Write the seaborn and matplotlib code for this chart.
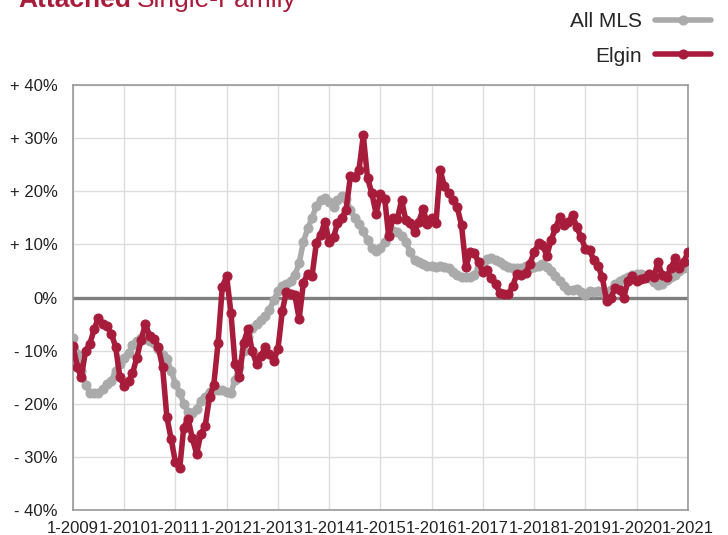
import numpy as np
import pandas as pd
import matplotlib.pyplot as plt
import seaborn as sns

# year-over-year change, monthly, 1-2009 .. 1-2021 (percent)
elgin = [
    -9.2, -13.0, -15.0, -10.0, -8.7, -6.0, -3.8, -5.0, -5.3, -6.8, -9.3, -15.0,
    -16.6, -15.7, -14.3, -11.3, -8.0, -5.0, -7.2, -7.8, -9.4, -13.0, -22.5, -26.6,
    -31.0, -32.0, -24.5, -22.8, -26.5, -29.4, -25.7, -24.2, -18.7, -16.5, -8.5, 2.0,
    4.0, -3.0, -12.5, -15.0, -8.5, -6.0, -10.0, -12.5, -11.0, -9.4, -10.6, -11.9,
    -9.6, -2.5, 1.0, 0.6, 0.4, -4.0, 2.8, 4.5, 4.1, 10.2, 11.8, 14.3,
    10.4, 11.3, 14.0, 15.0, 16.5, 22.8, 22.6, 24.0, 30.5, 22.5, 19.6, 15.8,
    19.5, 18.5, 11.5, 15.0, 14.8, 18.3, 14.5, 14.0, 12.4, 14.2, 16.7, 13.8,
    14.9, 14.0, 24.0, 21.0, 19.6, 18.3, 17.0, 13.6, 5.7, 8.5, 8.3, 6.6,
    4.8, 5.1, 3.6, 2.5, 0.9, 0.6, 0.6, 2.2, 4.5, 4.2, 4.6, 6.4,
    8.5, 10.2, 9.9, 7.9, 10.8, 13.0, 15.1, 13.6, 14.2, 15.5, 13.2, 11.3,
    9.2, 8.9, 7.0, 6.0, 3.8, -0.6, 0.0, 1.7, 1.4, 0.0, 3.2, 4.1,
    3.2, 3.4, 3.6, 4.5, 3.8, 6.6, 4.2, 3.9, 5.5, 7.4, 5.5, 6.6,
    8.6,
]
all_mls = [
    -7.7, -10.6, -13.8, -16.5, -17.9, -17.9, -17.9, -17.2, -16.2, -15.7, -13.8, -12.5,
    -11.3, -10.4, -9.0, -8.1, -7.7, -7.9, -8.1, -8.5, -9.6, -10.8, -11.5, -13.8,
    -16.2, -17.9, -20.0, -21.5, -21.7, -21.0, -19.5, -18.7, -17.8, -17.5, -17.5, -17.5,
    -17.8, -17.9, -15.5, -13.0, -10.0, -7.5, -5.8, -5.0, -4.2, -3.4, -2.4, -0.5,
    1.2, 2.2, 2.6, 3.2, 4.2, 6.5, 10.5, 13.0, 15.0, 17.2, 18.3, 18.8,
    17.9, 17.0, 18.3, 19.2, 18.5, 16.5, 15.0, 13.8, 12.5, 10.8, 9.4, 8.7,
    9.4, 10.5, 11.7, 12.6, 12.3, 11.5, 10.5, 8.5, 7.0, 6.6, 6.3, 6.0,
    6.0, 5.7, 6.0, 5.8, 5.5, 4.8, 4.2, 3.8, 3.8, 3.8, 4.3, 5.5,
    6.5, 7.2, 7.5, 7.0, 6.6, 6.2, 5.8, 5.6, 5.5, 5.6, 5.9, 5.6,
    5.8, 6.0, 6.3, 5.8, 5.0, 4.0, 3.2, 2.2, 1.4, 1.5, 1.6, 1.0,
    0.5, 1.2, 1.0, 1.2, 1.0, 0.9, 1.5, 2.5, 3.1, 3.5, 3.9, 4.2,
    4.4, 4.4, 4.1, 3.7, 2.9, 2.3, 2.5, 3.3, 3.8, 4.2, 4.9, 5.6,
    6.4,
]
x_labels = ["1-2009", "1-2010", "1-2011", "1-2012", "1-2013", "1-2014", "1-2015",
            "1-2016", "1-2017", "1-2018", "1-2019", "1-2020", "1-2021"]
y_ticks = [-40, -30, -20, -10, 0, 10, 20, 30, 40]
y_labels = ["- 40%", "- 30%", "- 20%", "- 10%", "0%", "+ 10%", "+ 20%", "+ 30%", "+ 40%"]

RED = "#a81c3b"
GRAY = "#aaaaaa"

sns.set_style("white")
plt.rcParams['font.family'] = ['Liberation Sans', 'DejaVu Sans']

months = pd.date_range("2009-01-01", periods=len(elgin), freq="MS")
df = pd.DataFrame({"month": months, "All MLS": all_mls, "Elgin": elgin})
year_ticks = pd.date_range("2009-01-01", periods=len(x_labels), freq="YS")

fig = plt.figure(figsize=(7.28, 5.35), dpi=100)
ax = fig.add_axes([73 / 728, 25 / 535, 615 / 728, 425 / 535])

ax.axhline(0, color="#808080", lw=2.4, zorder=1)
sns.lineplot(data=df, x="month", y="All MLS", ax=ax, color=GRAY, lw=4,
             marker="o", markersize=6.5, markeredgecolor=GRAY, label="All MLS", zorder=3)
sns.lineplot(data=df, x="month", y="Elgin", ax=ax, color=RED, lw=4,
             marker="o", markersize=6.5, markeredgecolor=RED, label="Elgin", zorder=4)

ax.set_xlim(months[0], months[-1])
ax.set_ylim(-40, 40)
ax.set_xticks(year_ticks)
ax.set_xticklabels(x_labels, fontsize=12)
ax.set_yticks(y_ticks)
ax.set_yticklabels(y_labels, fontsize=12)
ax.set_xlabel("")
ax.set_ylabel("")
ax.grid(True, color="#dddddd", lw=1, zorder=0)
ax.set_axisbelow(True)
ax.tick_params(axis="y", length=3, width=1, color="#999999", pad=8, colors="#222222")
ax.tick_params(axis="x", length=0, pad=8, colors="#222222")
for s in ax.spines.values():
    s.set_color("#999999")
    s.set_linewidth(1.2)

ax.legend(loc="upper right", bbox_to_anchor=(711 / 728, 1 - 12 / 535),
          bbox_transform=fig.transFigure, frameon=False, markerfirst=False,
          fontsize=15, handlelength=2.7, handletextpad=0.6, labelspacing=0.75,
          borderpad=0, borderaxespad=0)

# title, cut at the top edge like the original
t1 = fig.text(18 / 728, 1 - 7 / 535, "Attached", color=RED, fontsize=19,
              fontweight="bold", va="baseline", ha="left")
renderer = fig.canvas.get_renderer()
bb = t1.get_window_extent(renderer).transformed(fig.transFigure.inverted())
fig.text(bb.x1 + 6 / 728, 1 - 7 / 535, "Single-Family", color=RED, fontsize=19,
         va="baseline", ha="left")

fig.savefig("out.png", dpi=100)
